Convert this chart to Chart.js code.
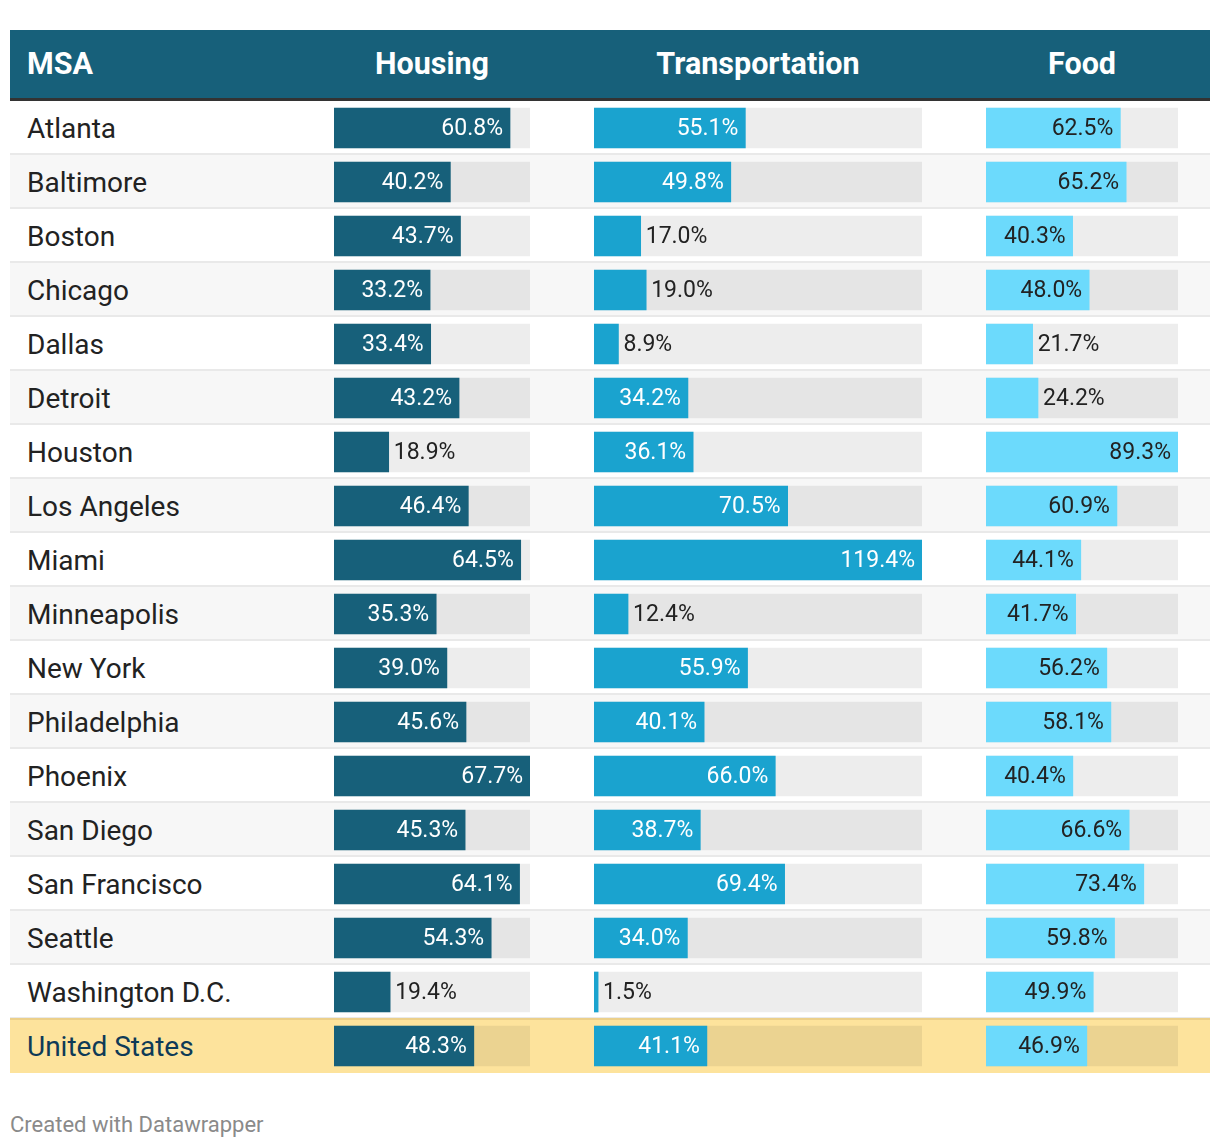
<!DOCTYPE html>
<html>
<head>
<meta charset="utf-8">
<script src="https://cdn.jsdelivr.net/npm/chart.js@4.4.1/dist/chart.umd.min.js"></script>
<style>
  body { margin: 0; background: #fff; font-family: Roboto, sans-serif; }
  #wrap { position: relative; width: 1220px; height: 1148px; }
  .abs { position: absolute; }
  #header { left: 10px; top: 30px; width: 1200px; height: 68px; background: #17607a; }
  #headline { left: 10px; top: 98px; width: 1200px; height: 3px; background: #333; }
  .hdr { top: 30px; height: 68px; line-height: 68px; color: #fff; font-weight: bold; font-size: 30.5px; }
  .row { left: 10px; width: 1200px; height: 52px; border-bottom: 2px solid #e9e9e9; }
  .lbl { left: 27px; height: 54px; line-height: 55px; font-size: 28px; color: #222; }
  #footer { left: 10px; top: 1110px; line-height: 30px; font-size: 22px; color: #8a8a8a; }
  canvas { position: absolute; }
</style>
</head>
<body>
<div id="wrap">
  <div id="header" class="abs"></div>
  <div id="headline" class="abs"></div>
  <div id="rows"></div>
  <div class="abs hdr" style="left:27px">MSA</div>
  <div class="abs hdr" style="left:334px;width:196px;text-align:center">Housing</div>
  <div class="abs hdr" style="left:594px;width:328px;text-align:center">Transportation</div>
  <div class="abs hdr" style="left:986px;width:192px;text-align:center">Food</div>
  <canvas id="housing" width="196" height="972" style="left:334px;top:101px"></canvas>
  <canvas id="transportation" width="328" height="972" style="left:594px;top:101px"></canvas>
  <canvas id="food" width="192" height="972" style="left:986px;top:101px"></canvas>
  <div id="footer" class="abs">Created with Datawrapper</div>
</div>
<script>
const msa = ['Atlanta', 'Baltimore', 'Boston', 'Chicago', 'Dallas', 'Detroit', 'Houston',
  'Los Angeles', 'Miami', 'Minneapolis', 'New York', 'Philadelphia', 'Phoenix', 'San Diego',
  'San Francisco', 'Seattle', 'Washington D.C.', 'United States'];
const housing = [60.8, 40.2, 43.7, 33.2, 33.4, 43.2, 18.9, 46.4, 64.5, 35.3, 39.0, 45.6, 67.7,
  45.3, 64.1, 54.3, 19.4, 48.3];
const transportation = [55.1, 49.8, 17.0, 19.0, 8.9, 34.2, 36.1, 70.5, 119.4, 12.4, 55.9, 40.1,
  66.0, 38.7, 69.4, 34.0, 1.5, 41.1];
const food = [62.5, 65.2, 40.3, 48.0, 21.7, 24.2, 89.3, 60.9, 44.1, 41.7, 56.2, 58.1, 40.4,
  66.6, 73.4, 59.8, 49.9, 46.9];

const ROW_H = 54;
const TOP = 101;

// table rows + names
const rowsEl = document.getElementById('rows');
msa.forEach((name, i) => {
  const isTotal = i === msa.length - 1;
  const row = document.createElement('div');
  row.className = 'abs row';
  row.style.top = (TOP + i * ROW_H) + 'px';
  if (isTotal) {
    row.style.top = (TOP + i * ROW_H - 1) + 'px';
    row.style.height = '53px';
    row.style.background = '#fde39c';
    row.style.borderTop = '2px solid #ecd08a';
    row.style.borderBottom = 'none';
  } else {
    row.style.background = i % 2 ? '#f7f7f7' : '#fff';
  }
  rowsEl.appendChild(row);

  const lbl = document.createElement('div');
  lbl.className = 'abs lbl';
  lbl.style.top = (TOP + i * ROW_H) + 'px';
  if (isTotal) lbl.style.color = '#0e3a57';
  lbl.textContent = name;
  rowsEl.appendChild(lbl);
});

const valueLabels = {
  id: 'valueLabels',
  afterDatasetsDraw(chart, args, opts) {
    const ctx = chart.ctx;
    const meta = chart.getDatasetMeta(0);
    const data = chart.data.datasets[0].data;
    ctx.save();
    ctx.font = '23px Roboto';
    ctx.textBaseline = 'middle';
    meta.data.forEach((bar, i) => {
      const txt = data[i].toFixed(1) + '%';
      const w = ctx.measureText(txt).width;
      const barW = bar.x - bar.base;
      const y = bar.y + 1.5;
      if (barW >= w + 16) {
        ctx.fillStyle = opts.inside;
        ctx.textAlign = 'right';
        ctx.fillText(txt, bar.x - 7, y);
      } else {
        ctx.fillStyle = '#222';
        ctx.textAlign = 'left';
        ctx.fillText(txt, bar.x + 5, y);
      }
    });
    ctx.restore();
  },
};

function drawColumn(id, values, color, insideColor) {
  const max = Math.max(...values);
  const track = values.map(() => max);
  return new Chart(document.getElementById(id), {
    type: 'bar',
    data: {
      labels: msa,
      datasets: [
        { data: values, backgroundColor: color, barThickness: 40, grouped: false },
        { data: track, backgroundColor: 'rgba(0,0,0,0.07)', barThickness: 40, grouped: false },
      ],
    },
    options: {
      indexAxis: 'y',
      responsive: false,
      animation: false,
      events: [],
      layout: { padding: 0 },
      plugins: {
        legend: { display: false },
        tooltip: { enabled: false },
        valueLabels: { inside: insideColor },
      },
      scales: {
        x: { display: false, min: 0, max: max },
        y: { display: false },
      },
    },
    plugins: [valueLabels],
  });
}

drawColumn('housing', housing, '#17607a', '#fff');
drawColumn('transportation', transportation, '#1aa3cf', '#fff');
drawColumn('food', food, '#6cdafc', '#222');
</script>
</body>
</html>
